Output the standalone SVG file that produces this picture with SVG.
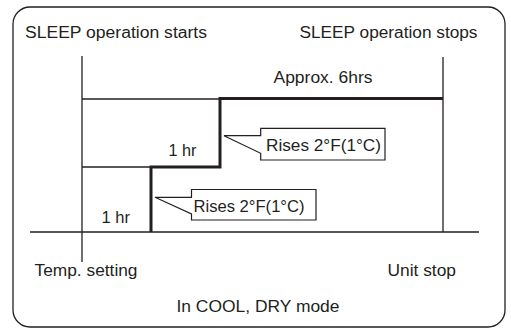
<svg xmlns="http://www.w3.org/2000/svg" width="511" height="329" viewBox="0 0 511 329">
<style>
text{font-family:"Liberation Sans",Arial,sans-serif;font-size:16px;fill:#231f20}
.thin{stroke:#231f20;stroke-width:1.3;fill:none}
.thick{stroke:#231f20;stroke-width:3;fill:none;stroke-linejoin:miter}
.call{stroke:#231f20;stroke-width:1.2;fill:#fff}
</style>
<rect x="13" y="7" width="492" height="320" rx="17" ry="17" fill="#fff" stroke="#231f20" stroke-width="1.3"/>
<g id="connectors">
<line class="thin" x1="82" y1="56" x2="82" y2="262"/>
<line class="thin" x1="443" y1="57" x2="443" y2="232"/>
<line class="thin" x1="30" y1="232" x2="479" y2="232"/>
<line class="thin" x1="82" y1="99" x2="220" y2="99"/>
<line class="thin" x1="82" y1="167" x2="151" y2="167"/>
<polyline class="thick" points="151,232 151,167 220,167 220,98.5 443,98.5"/>
</g>
<g id="labels">
<text x="25" y="38" textLength="182" lengthAdjust="spacingAndGlyphs">SLEEP operation starts</text>
<text x="299.5" y="38" textLength="178" lengthAdjust="spacingAndGlyphs">SLEEP operation stops</text>
<text x="273.5" y="83" textLength="99" lengthAdjust="spacingAndGlyphs">Approx. 6hrs</text>
<text x="168.5" y="156" textLength="28" lengthAdjust="spacingAndGlyphs">1 hr</text>
<text x="101.5" y="223" textLength="28.5" lengthAdjust="spacingAndGlyphs">1 hr</text>
<text x="34.5" y="275.5" textLength="103" lengthAdjust="spacingAndGlyphs">Temp. setting</text>
<text x="387.5" y="275.5" textLength="68.5" lengthAdjust="spacingAndGlyphs">Unit stop</text>
<text x="176.5" y="312" textLength="163" lengthAdjust="spacingAndGlyphs">In COOL, DRY mode</text>
</g>
<g id="callout-upper">
<polygon class="call" points="260.7,128.3 385,128.3 385,160 260.7,160 260.7,153.3 224,135.7 260.7,135.7"/>
<text x="266" y="150.5" textLength="115" lengthAdjust="spacingAndGlyphs">Rises 2°F(1°C)</text>
</g>
<g id="callout-lower">
<polygon class="call" points="191.5,189.5 316,189.5 316,220 191.5,220 191.5,214 155,197.3 191.5,197.3"/>
<text x="193.5" y="211.5" textLength="111" lengthAdjust="spacingAndGlyphs">Rises 2°F(1°C)</text>
</g>
</svg>
